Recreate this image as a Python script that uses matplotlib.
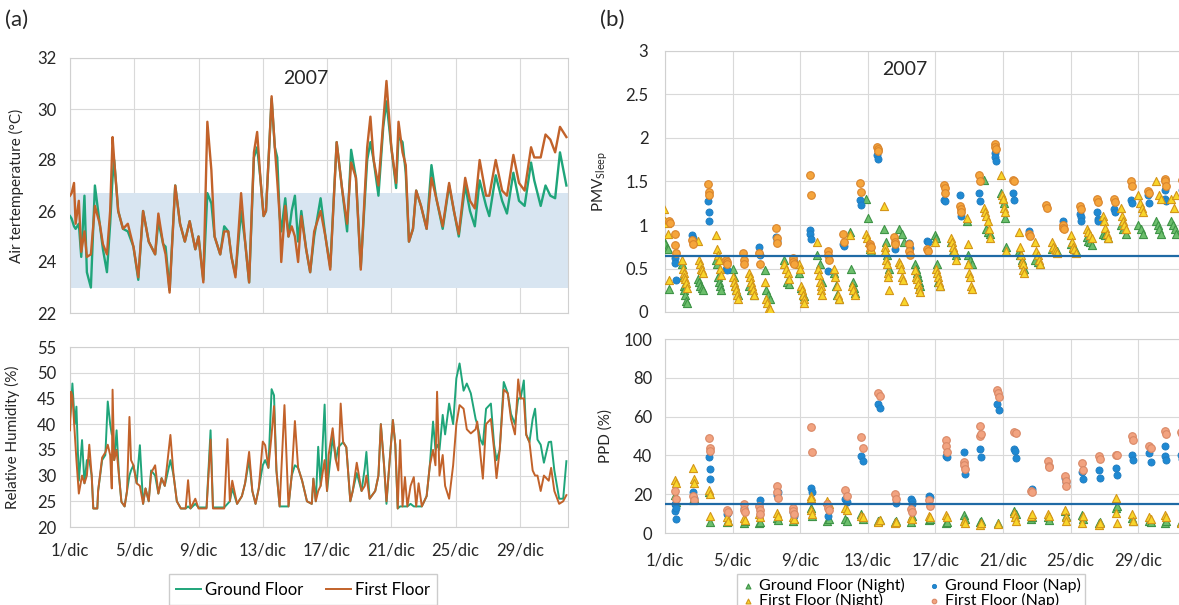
import numpy as np
import matplotlib
matplotlib.use("Agg")
import matplotlib.pyplot as plt

plt.rcParams['font.family'] = ['Lato', 'DejaVu Sans']
plt.rcParams['mathtext.fontset'] = 'custom'
plt.rcParams['mathtext.rm'] = 'Lato'
plt.rcParams['mathtext.it'] = 'Lato:italic'

# ---------------- data: air temperature (days since 1 Dec) ----------------
temp_t = [0.0, 0.1, 0.25, 0.35, 0.55, 0.7, 0.9, 1.05, 1.3, 1.55,
          1.85, 2.05, 2.3, 2.5, 2.65, 2.75, 3.0, 3.3, 3.6, 3.95,
          4.25, 4.55, 4.9, 5.3, 5.5, 5.8, 5.95, 6.2, 6.55, 6.85,
          7.15, 7.45, 7.8, 8.0, 8.3, 8.55, 8.8, 9.0, 9.35, 9.6,
          9.85, 10.05, 10.3, 10.65, 10.9, 11.15, 11.45, 11.65, 11.85, 12.05,
          12.2, 12.4, 12.55, 12.75, 12.9, 13.05, 13.15, 13.4, 13.6, 13.8,
          14.0, 14.2, 14.4, 14.7, 14.95, 15.2, 15.6, 15.9, 16.2, 16.6,
          16.95, 17.25, 17.5, 17.8, 18.1, 18.5, 18.7, 18.9, 19.2, 19.5,
          19.7, 20.0, 20.3, 20.45, 20.7, 20.9, 21.1, 21.35, 21.55, 21.85,
          22.2, 22.5, 22.8, 23.2, 23.6, 23.9, 24.2, 24.6, 24.9, 25.2,
          25.5, 25.9, 26.1, 26.5, 26.9, 27.2, 27.6, 27.95, 28.3, 28.7,
          28.9, 29.3, 29.6, 29.9, 30.2, 30.5, 30.9]
temp_gf = [25.8, 25.7, 25.4, 25.3, 25.5, 24.2, 26.6, 23.6, 23.0, 27.0,
           25.5, 24.5, 23.6, 25.5, 27.3, 28.0, 26.0, 25.3, 25.2, 24.6,
           23.3, 26.0, 24.8, 24.3, 25.6, 24.7, 24.6, 22.9, 27.0, 25.5,
           24.8, 25.6, 24.5, 25.0, 23.3, 26.7, 26.3, 25.0, 24.3, 25.4,
           25.2, 24.2, 23.5, 26.0, 24.8, 23.2, 28.1, 28.5, 27.3, 25.8,
           26.0, 28.5, 30.4, 28.5, 28.1, 25.8, 25.2, 26.5, 25.0, 26.0,
           26.6, 24.8, 26.0, 24.5, 23.6, 25.0, 26.5, 25.0, 23.8, 28.7,
           26.8, 25.2, 28.4, 27.3, 23.8, 28.0, 28.7, 28.0, 26.6, 29.3,
           30.3, 28.5, 26.9, 28.9, 28.7, 27.5, 24.8, 25.3, 26.8, 26.2,
           25.3, 27.8, 26.5, 25.3, 27.0, 26.0, 25.0, 27.0, 26.0, 25.4,
           27.2, 26.2, 25.8, 27.4, 26.4, 25.9, 27.5, 26.4, 26.2, 27.9,
           27.2, 26.2, 27.0, 26.6, 26.5, 28.3, 27.0]
temp_ff = [26.6, 26.7, 27.1, 25.5, 26.4, 24.4, 25.2, 24.2, 24.3, 26.2,
           25.5, 24.7, 24.3, 26.0, 28.9, 28.0, 26.0, 25.3, 25.5, 24.6,
           23.4, 26.0, 24.8, 24.3, 25.9, 24.7, 24.3, 22.8, 27.0, 25.5,
           24.8, 25.6, 24.5, 25.0, 23.2, 29.5, 27.6, 25.0, 24.3, 25.2,
           25.2, 24.2, 23.4, 26.7, 24.8, 23.2, 28.3, 29.1, 27.3, 25.8,
           26.0, 28.5, 30.5, 28.5, 27.2, 25.8, 24.0, 26.2, 25.0, 25.4,
           25.0, 24.0, 25.8, 24.5, 23.6, 25.2, 26.0, 25.0, 23.7, 28.7,
           26.8, 25.5, 27.9, 27.3, 23.7, 28.5, 29.7, 28.0, 27.0, 29.5,
           31.1, 28.5, 27.1, 29.5, 28.3, 27.8, 24.8, 25.3, 26.8, 26.2,
           25.3, 27.3, 26.5, 25.4, 27.1, 26.0, 25.1, 27.3, 26.4, 26.1,
           28.0, 26.6, 26.6, 28.0, 26.8, 26.6, 28.2, 27.1, 26.8, 28.5,
           28.1, 28.1, 29.0, 28.8, 28.3, 29.3, 28.9]
comfort_band = [23.0, 26.7]

# ---------------- data: relative humidity ----------------
rh_t = [0.0, 0.06, 0.15, 0.3, 0.4, 0.55, 0.75, 0.9, 1.05, 1.2,
        1.35, 1.45, 1.7, 1.75, 2.0, 2.2, 2.35, 2.5, 2.6, 2.65,
        2.75, 2.9, 3.05, 3.2, 3.4, 3.55, 3.7, 3.8, 3.95, 4.15,
        4.35, 4.55, 4.7, 4.9, 5.05, 5.3, 5.5, 5.7, 5.9, 6.25,
        6.45, 6.65, 6.9, 7.2, 7.35, 7.5, 7.8, 8.0, 8.5, 8.75,
        8.9, 9.6, 9.8, 9.95, 10.1, 10.4, 10.7, 10.9, 11.15, 11.35,
        11.55, 11.75, 12.0, 12.15, 12.35, 12.55, 12.7, 12.85, 13.05, 13.35,
        13.6, 13.8, 14.0, 14.2, 14.45, 14.75, 15.05, 15.15, 15.3, 15.45,
        15.6, 15.85, 16.0, 16.1, 16.35, 16.55, 16.7, 16.85, 17.0, 17.2,
        17.45, 17.6, 17.85, 18.15, 18.35, 18.45, 18.65, 19.0, 19.2, 19.35,
        19.55, 19.7, 19.9, 20.1, 20.25, 20.4, 20.55, 20.7, 20.85, 21.0,
        21.2, 21.4, 21.55, 21.7, 21.9, 22.2, 22.4, 22.6, 22.75, 22.85,
        23.0, 23.2, 23.35, 23.6, 23.85, 24.05, 24.25, 24.5, 24.7, 24.95,
        25.25, 25.35, 25.55, 25.7, 25.9, 26.2, 26.4, 26.55, 26.75, 27.0,
        27.25, 27.45, 27.7, 27.9, 28.05, 28.25, 28.4, 28.6, 28.8, 28.95,
        29.1, 29.3, 29.5, 29.8, 29.95, 30.15, 30.45, 30.7, 30.9]
rh_gf = [41.0, 43.0, 47.9, 40.0, 43.4, 29.0, 36.9, 28.5, 33.0, 33.0,
         30.0, 23.6, 23.6, 27.0, 33.0, 34.0, 44.4, 40.0, 38.0, 38.0,
         33.0, 38.8, 30.0, 24.9, 24.0, 27.0, 30.0, 31.0, 32.0, 28.5,
         35.9, 24.5, 27.5, 25.0, 31.0, 30.0, 26.5, 29.5, 28.0, 33.0,
         30.0, 25.0, 23.6, 23.6, 24.0, 23.6, 24.5, 23.8, 23.8, 38.8,
         23.8, 23.8, 24.5, 25.0, 27.5, 24.5, 26.0, 28.5, 33.0, 27.0,
         24.5, 27.5, 32.0, 33.0, 31.5, 46.8, 45.6, 31.0, 24.0, 24.0,
         24.0, 30.0, 32.0, 31.5, 29.0, 25.0, 24.5, 29.4, 25.0, 35.6,
         28.0, 43.8, 27.0, 30.0, 37.5, 33.0, 35.5, 36.0, 36.5, 35.5,
         25.0, 27.0, 30.5, 27.0, 31.5, 34.6, 25.5, 27.0, 30.0, 40.0,
         32.0, 24.5, 33.0, 40.8, 36.0, 23.6, 24.0, 24.0, 24.0, 24.0,
         24.5, 24.0, 24.0, 24.0, 24.0, 26.0, 32.0, 40.5, 35.0, 36.0,
         35.0, 41.8, 38.0, 44.0, 40.0, 48.9, 51.8, 46.5, 47.9, 46.0,
         41.0, 40.0, 37.0, 36.0, 43.0, 44.0, 36.0, 33.0, 35.0, 48.2,
         46.0, 42.0, 40.0, 45.0, 45.0, 48.5, 38.0, 36.5, 41.0, 43.0,
         37.0, 36.0, 32.5, 36.5, 36.6, 31.0, 25.5, 25.5, 32.8]
rh_ff = [38.8, 46.3, 45.5, 38.0, 33.0, 26.5, 30.0, 28.5, 30.0, 36.0,
         30.0, 23.6, 23.6, 27.0, 33.5, 34.5, 36.0, 34.0, 27.5, 46.7,
         33.0, 35.0, 30.0, 24.9, 24.0, 27.0, 41.4, 33.0, 32.0, 28.5,
         28.0, 24.5, 27.5, 25.0, 30.5, 32.0, 26.5, 29.5, 28.0, 37.9,
         30.0, 25.0, 23.6, 23.6, 29.1, 23.6, 25.5, 23.6, 23.6, 37.0,
         23.6, 23.6, 37.1, 25.0, 29.0, 24.5, 26.0, 28.5, 34.6, 27.0,
         24.5, 27.5, 36.6, 35.9, 31.5, 38.0, 43.5, 31.0, 24.0, 43.7,
         24.0, 30.0, 40.6, 31.5, 29.0, 25.0, 24.5, 29.4, 25.0, 27.0,
         28.0, 33.0, 27.0, 34.0, 39.2, 33.0, 31.0, 44.0, 36.5, 35.5,
         25.0, 27.0, 32.5, 27.0, 28.0, 30.0, 25.5, 27.0, 30.0, 40.0,
         32.0, 25.0, 33.0, 40.8, 36.0, 23.6, 36.9, 24.0, 29.7, 24.0,
         28.0, 29.7, 24.0, 28.5, 24.0, 26.0, 32.0, 35.0, 32.0, 46.3,
         30.0, 34.0, 28.0, 25.5, 32.0, 40.0, 43.7, 43.0, 39.0, 38.2,
         39.0, 40.5, 34.0, 29.4, 40.0, 41.0, 35.0, 29.5, 35.0, 46.7,
         46.0, 41.0, 38.0, 48.7, 45.0, 45.0, 37.9, 36.5, 31.0, 30.0,
         30.0, 27.0, 30.0, 29.0, 31.5, 27.0, 24.5, 25.0, 26.2]

# ---------------- data: PMV sleep (night clusters and nap clusters) ----------------
pmv_night_day = [0.1, 1.15, 2.1, 3.15, 4.15, 5.1, 6.05, 7.2, 8.1, 9.15, 10.15,
                 11.1, 12.05, 13.1, 14.0, 14.95, 16.1, 17.05, 18.0, 19.05, 20.05,
                 21.1, 22.05, 23.05, 24.15, 25.1, 26.05, 27.1, 28.15, 29.2, 30.1]
pmv_ground_night = [
    [0.82, 0.78, 0.74, 0.72, 0.26], [0.55, 0.40, 0.30, 0.25, 0.20, 0.13, 0.10],
    [0.38, 0.35, 0.30, 0.28, 0.25], [0.60, 0.55, 0.40, 0.35, 0.30, 0.25],
    [0.50, 0.40, 0.30, 0.25, 0.20], [0.30, 0.25, 0.20], [0.48, 0.25, 0.20, 0.15],
    [0.60, 0.35, 0.32], [0.45, 0.28, 0.20, 0.18], [0.65, 0.55, 0.35],
    [0.45, 0.30, 0.20, 0.15], [0.92, 0.50, 0.35, 0.28, 0.22], [1.30, 1.08, 0.72, 0.70],
    [0.95, 0.80, 0.65, 0.50], [0.95, 0.90, 0.80], [0.55, 0.50, 0.45, 0.40, 0.35, 0.30],
    [0.88, 0.85, 0.55, 0.35, 0.30], [0.80, 0.70, 0.65], [1.05, 0.65, 0.60, 0.55],
    [1.52, 0.95, 0.92, 0.90], [1.37, 1.30, 1.25, 1.08, 0.75], [0.70, 0.65, 0.60, 0.55, 0.50],
    [0.60, 0.58, 0.55], [0.72, 0.70], [0.78, 0.73, 0.70], [0.86, 0.82, 0.80, 0.77],
    [0.90, 0.88, 0.85], [1.00, 0.95, 0.90], [1.00, 0.95, 0.90], [1.05, 1.00, 0.95, 0.90],
    [1.05, 1.00, 0.95, 0.90]]
pmv_first_night = [
    [1.18, 1.05, 1.02, 0.90, 0.37], [0.60, 0.50, 0.45, 0.40, 0.38, 0.33, 0.28],
    [0.82, 0.60, 0.55, 0.50, 0.48, 0.45], [0.88, 0.72, 0.65, 0.60, 0.50, 0.42],
    [0.40, 0.35, 0.30, 0.25, 0.20, 0.15], [0.45, 0.40, 0.35, 0.30, 0.25, 0.20],
    [0.35, 0.15, 0.10, 0.05, 0.03], [0.55, 0.50, 0.45, 0.38],
    [0.55, 0.50, 0.30, 0.25, 0.20, 0.15, 0.10], [0.80, 0.50, 0.42, 0.35, 0.30, 0.25, 0.20],
    [0.50, 0.40, 0.30, 0.20, 0.15], [0.88, 0.30, 0.25, 0.20], [0.90, 0.85, 0.80, 0.75, 0.72],
    [1.22, 0.75, 0.70, 0.60, 0.55, 0.45, 0.40, 0.25], [0.58, 0.55, 0.50, 0.40, 0.37, 0.13],
    [0.48, 0.40, 0.38, 0.32, 0.27, 0.23], [0.80, 0.50, 0.45, 0.40, 0.35, 0.30],
    [0.85, 0.80, 0.75, 0.70, 0.60], [1.08, 0.78, 0.55, 0.45, 0.40, 0.30, 0.27],
    [1.20, 1.15, 1.10, 1.05, 0.95, 0.85], [1.58, 1.35, 1.30, 1.20, 1.15, 0.70],
    [0.92, 0.75, 0.65, 0.58, 0.55, 0.48, 0.45], [0.80, 0.70, 0.65, 0.60, 0.55],
    [0.80, 0.75, 0.72, 0.70, 0.68], [0.88, 0.80, 0.75, 0.72, 0.68], [0.95, 0.92, 0.88, 0.85],
    [1.10, 1.05, 0.97, 0.90, 0.85], [1.20, 1.10, 1.05, 1.00, 0.95], [1.35, 1.25, 1.20, 1.15],
    [1.50, 1.35, 1.30], [1.30, 1.20, 1.35]]
pmv_nap_day = [0.25, 0.6, 1.6, 2.6, 3.65, 4.65, 5.6, 6.6, 7.6, 8.6, 9.65, 10.55,
               11.55, 12.15, 12.6, 13.6, 14.45, 15.55, 16.55, 17.5, 18.6, 19.55,
               20.6, 21.55, 22.55, 23.55, 24.6, 25.6, 26.6, 27.6, 28.6, 29.6, 30.6]
pmv_ground_nap = [
    [], [0.62, 0.56, 0.37], [0.88, 0.85], [1.28, 1.15, 1.05], [0.50, 0.48], [],
    [0.75, 0.65], [0.86, 0.82], [0.60, 0.58], [0.94, 0.90, 0.84], [0.47], [0.78, 0.76],
    [1.29, 1.23], [], [1.80, 1.76], [0.72], [0.79, 0.74], [0.82, 0.80], [1.29, 1.28],
    [1.35, 1.10], [1.37, 1.28], [1.83, 1.78, 1.74], [1.37, 1.29], [0.93], [], [1.05],
    [1.13, 1.09, 1.05], [1.15, 1.07, 1.05], [1.18, 1.15], [1.29, 1.25], [1.35, 1.25],
    [1.40, 1.30, 1.28], [1.40, 1.30]]
pmv_first_nap = [
    [1.05, 1.02], [0.90, 0.77, 0.68], [0.83, 0.78], [1.47, 1.38, 1.35], [0.60, 0.58, 0.55],
    [0.68, 0.60, 0.55], [0.68, 0.55], [0.96, 0.85, 0.79], [0.62, 0.57, 0.55], [1.58, 1.35],
    [0.70, 0.65, 0.60], [0.90, 0.80], [1.48, 1.38], [0.78, 0.76, 0.75], [1.90, 1.87, 1.85],
    [0.86, 0.80, 0.78], [0.78, 0.70, 0.65], [0.72, 0.70], [1.46, 1.42, 1.37],
    [1.22, 1.18, 1.15], [1.58, 1.50], [1.93, 1.90, 1.87], [1.52, 1.50], [0.90, 0.87],
    [1.23, 1.20], [1.00, 0.97, 0.95], [1.22, 1.18], [1.30, 1.27], [1.30, 1.27],
    [1.50, 1.45], [1.39, 1.37], [1.53, 1.50, 1.45], [1.52, 1.50]]
pmv_limit = 0.64

# ---------------- data: PPD ----------------
ppd_day = [0.63, 1.7, 2.65, 3.7, 4.7, 5.6, 6.65, 7.6, 8.65, 9.65, 10.7, 11.65, 12.65,
           13.65, 14.6, 15.65, 16.65, 17.7, 18.65, 19.7, 20.7, 21.7, 22.7, 23.7, 24.7,
           25.7, 26.7, 27.65, 28.7, 29.6, 30.55]
ppd_ground_night = [[19.8, 16], [17, 18], [21, 5.5], [5.5, 6], [5.3, 6], [5, 5.5], [7.5, 6.5],
                    [6, 7], [13, 8.6], [6, 7], [7.2, 6], [10, 7], [6, 6.5], [5.5, 6], [5.5, 9],
                    [6.5, 7], [5.2, 5.5], [9.5, 7], [5.5, 6], [5.2], [11.2, 10], [7.2, 8],
                    [8, 6.5], [11.5, 9], [9.5, 7], [5.2, 5.5], [12.9, 14], [7.6, 6], [6, 5.5],
                    [5.2, 6], [5.5]]
ppd_ground_nap = [[15, 11.2, 7.4, 13], [21, 18], [39, 33, 27.8], [10, 11], [13], [16.8],
                  [19.8, 21], [11, 9], [23.2, 21], [8.6], [17.5, 16], [39.5, 37], [66.7, 64.4],
                  [15.5], [17.5, 16.3, 15], [18.9, 18.5], [39.5, 39], [41.8, 30.4], [43.5, 39.2],
                  [66.7, 63.2], [43.5, 42.5, 38.7], [22.5], [], [28.3, 26.5], [31.3, 27.8],
                  [32.6, 28.3], [33.5, 29.9], [40, 37.5], [41.2, 36.4], [44.7, 39.9, 37.5],
                  [40, 38]]
ppd_first_night = [[27.5, 25.8], [33.5, 28, 26], [22, 20, 8.6], [8, 6], [7.7, 6.5], [10, 8],
                   [10.5, 9], [8.5, 7], [19.2, 18, 12, 10], [16.3, 15], [12.9, 12], [9, 8.5],
                   [5.7, 6.5], [5.2, 5.5], [7.7, 7], [8.6, 8], [9.5, 8], [6, 5], [4.3, 5], [4.7],
                   [10.5, 8, 6], [8.9, 10], [10, 9], [11.7, 8, 6], [5.2, 9], [4.3, 5],
                   [18, 10.3, 5], [10, 6], [8, 7], [9.5, 8], [5]]
ppd_first_nap = [[21.8, 17.5], [19, 17], [49, 43.8, 42.5], [12, 11], [15, 12, 11], [14, 12, 10],
                 [24.4, 21, 18], [12.9, 11.5, 10], [54.6, 41.8], [15, 13, 12], [22.3, 19],
                 [49.3, 43.8], [72.2, 70.4], [20.3, 17.5], [12.4, 11], [17, 14.1],
                 [47.8, 44.7, 42], [36.4, 35, 33], [55, 50.2, 51], [73.9, 72, 70], [51.9, 51.5],
                 [21.8, 21], [36.9, 34.7, 34], [29.2, 27, 24.4], [36.1, 32.6], [39.5, 38.1],
                 [40.4, 40], [50.2, 48], [44.7, 44], [52.4, 51.2], [52, 51]]
ppd_limit = 15

tick_days = [0, 4, 8, 12, 16, 20, 24, 28]
tick_labels = ['1/dic', '5/dic', '9/dic', '13/dic', '17/dic', '21/dic', '25/dic', '29/dic']

# ---------------- styles ----------------
C_GF = '#1fa57a'
C_FF = '#c2622a'
GRID = '#d9d9d9'
SPINE = '#d0d0d0'
TXT = '#262626'
STY = {
    'gn': dict(marker='^', facecolor='#6cbf6c', edgecolor='#3f9447', s=34, linewidths=0.8),
    'gp': dict(marker='o', facecolor='#1f89d2', edgecolor='#1f7cc0', s=26, linewidths=0.6),
    'fn': dict(marker='^', facecolor='#f8d52a', edgecolor='#d4961a', s=34, linewidths=0.8),
    'fp': dict(marker='o', facecolor='#f5a53c', edgecolor='#d9842c', s=30, linewidths=0.8),
    'fp2': dict(marker='o', facecolor='#f2a380', edgecolor='#d98866', s=30, linewidths=0.8),
}

W, H = 1179, 605
fig = plt.figure(figsize=(W / 100, H / 100), dpi=100)


def px_axes(x0, y0, x1, y1):
    return fig.add_axes([x0 / W, 1 - y1 / H, (x1 - x0) / W, (y1 - y0) / H])


def style(ax):
    ax.grid(True, color=GRID, lw=0.8)
    ax.set_axisbelow(True)
    for s in ax.spines.values():
        s.set_color(SPINE)
        s.set_linewidth(0.8)
    ax.tick_params(length=0, colors=TXT, labelsize=12)


def cluster(centers, groups, width):
    xs, ys = [], []
    for c, g in zip(centers, groups):
        n = len(g)
        off = np.linspace(-width / 2, width / 2, n) if n > 1 else np.zeros(n)
        xs.extend(c + off)
        ys.extend(g)
    return np.array(xs), np.array(ys)


# ---------------- (a) temperature ----------------
ax1 = px_axes(70, 58, 568, 313)
style(ax1)
ax1.axhspan(comfort_band[0], comfort_band[1], color='#d8e5f1', zorder=1, lw=0)
ax1.plot(temp_t, temp_gf, color=C_GF, lw=1.7, zorder=3)
ax1.plot(temp_t, temp_ff, color=C_FF, lw=1.7, zorder=4)
ax1.set_xlim(0, 31)
ax1.set_ylim(22, 32)
ax1.set_yticks(np.arange(22, 33, 2))
ax1.set_xticks(tick_days)
ax1.set_xticklabels([])
ax1.tick_params(axis='y', pad=10)
ax1.set_ylabel('Air tertemperature (°C)', fontsize=11, color=TXT)
ax1.yaxis.set_label_coords(-0.092, 0.5)
ax1.text(0.474, 0.92, '2007', transform=ax1.transAxes, ha='center', va='center',
         fontsize=14, color=TXT)

# ---------------- (a) humidity ----------------
ax2 = px_axes(70, 347, 568, 527)
style(ax2)
l1, = ax2.plot(rh_t, rh_gf, color=C_GF, lw=1.4, zorder=3)
l2, = ax2.plot(rh_t, rh_ff, color=C_FF, lw=1.4, zorder=4)
ax2.set_xlim(0, 31)
ax2.set_ylim(20, 55)
ax2.set_yticks(np.arange(20, 56, 5))
ax2.set_xticks(tick_days)
ax2.set_xticklabels(tick_labels)
ax2.tick_params(axis='y', pad=10)
ax2.tick_params(axis='x', pad=11)
ax2.set_ylabel('Relative Humidity (%)', fontsize=11, color=TXT)
ax2.yaxis.set_label_coords(-0.100, 0.5)
ax2.legend([l1, l2], ['Ground Floor', 'First Floor'], loc='upper center',
           bbox_to_anchor=(303 / W, 1 - 566 / H), bbox_transform=fig.transFigure,
           ncol=2, fontsize=12, frameon=True, fancybox=False, edgecolor='#c0c0c0',
           handlelength=1.5, handletextpad=0.2, columnspacing=1.4, borderpad=0.45)

# ---------------- (b) PMV ----------------
ax3 = px_axes(665, 51, 1189, 312)
style(ax3)
x, y = cluster(pmv_night_day, pmv_ground_night, 0.3)
ax3.scatter(x, y, zorder=3, **STY['gn'])
x, y = cluster(pmv_nap_day, pmv_ground_nap, 0.06)
ax3.scatter(x, y, zorder=3, **STY['gp'])
x, y = cluster(pmv_night_day, pmv_first_night, 0.3)
ax3.scatter(x, y, zorder=3, **STY['fn'])
x, y = cluster(pmv_nap_day, pmv_first_nap, 0.06)
ax3.scatter(x, y, zorder=3, **STY['fp'])
ax3.axhline(pmv_limit, color='#1f6aa5', lw=1.6, zorder=4)
ax3.set_xlim(0, 31)
ax3.set_ylim(0, 3)
ax3.set_yticks([0, 0.5, 1, 1.5, 2, 2.5, 3])
ax3.set_yticklabels(['0', '0.5', '1', '1.5', '2', '2.5', '3'])
ax3.set_xticks(tick_days)
ax3.set_xticklabels([])
ax3.tick_params(axis='y', pad=12)
ax3.set_ylabel(r'PMV$_{\mathrm{Sleep}}$', fontsize=11, color=TXT)
ax3.yaxis.set_label_coords(-0.105, 0.5)
ax3.text(14.2, 2.79, '2007', ha='center', va='center', fontsize=14, color=TXT)

# ---------------- (b) PPD ----------------
ax4 = px_axes(665, 339, 1189, 533)
style(ax4)
x, y = cluster(ppd_day, ppd_ground_night, 0.08)
h1 = ax4.scatter(x, y, zorder=3, **STY['gn'])
x, y = cluster(ppd_day, ppd_ground_nap, 0.08)
h2 = ax4.scatter(x, y, zorder=3, **STY['gp'])
x, y = cluster(ppd_day, ppd_first_night, 0.08)
h3 = ax4.scatter(x, y, zorder=3, **STY['fn'])
x, y = cluster(ppd_day, ppd_first_nap, 0.08)
h4 = ax4.scatter(x, y, zorder=3, **STY['fp2'])
ax4.axhline(ppd_limit, color='#1f6aa5', lw=1.6, zorder=4)
ax4.set_xlim(0, 31)
ax4.set_ylim(0, 100)
ax4.set_yticks(np.arange(0, 101, 20))
ax4.set_xticks(tick_days)
ax4.set_xticklabels(tick_labels)
ax4.tick_params(axis='y', pad=9)
ax4.tick_params(axis='x', pad=14)
ax4.set_ylabel('PPD (%)', fontsize=11, color=TXT)
ax4.yaxis.set_label_coords(-0.099, 0.5)
ax4.legend([h1, h3, h2, h4],
           ['Ground Floor (Night)', 'First Floor (Night)', 'Ground Floor (Nap)', 'First Floor (Nap)'],
           loc='upper center', bbox_to_anchor=(911 / W, 1 - 566 / H), bbox_transform=fig.transFigure,
           ncol=2, fontsize=11.5, frameon=True, fancybox=False, edgecolor='#c0c0c0',
           markerscale=0.6, handlelength=0.8, handletextpad=0.3, columnspacing=1.4,
           labelspacing=0.0, borderpad=0.25)

fig.text(5 / W, 1 - 20 / H, '(a)', fontsize=16, va='center', ha='left', color=TXT)
fig.text(600 / W, 1 - 20 / H, '(b)', fontsize=16, va='center', ha='left', color=TXT)

fig.savefig('out.png', dpi=100)
